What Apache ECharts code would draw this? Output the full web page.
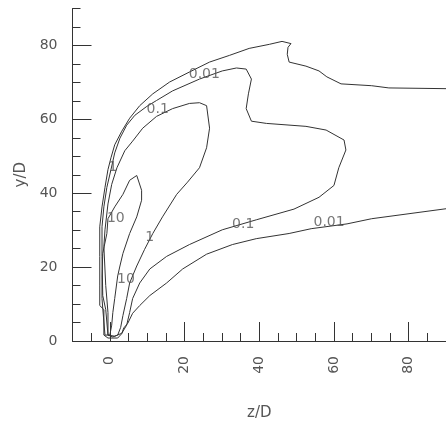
<!DOCTYPE html>
<html>
<head>
<meta charset="utf-8">
<script src="https://cdn.jsdelivr.net/npm/echarts@6/dist/echarts.min.js"></script>
<style>html,body{margin:0;padding:0;background:#fff}#c{width:446px;height:426px}</style>
</head>
<body>
<div id="c"></div>
<script>
// contour level 0.01 (open at right edge) [z/D, y/D]
const contour001 = [[90,68.3],[74.7,68.5],[70.1,69.1],[61.9,69.6],[58.1,71.5],[56.0,73.1],[52.5,74.4],[48.0,75.5],[47.5,77.6],[47.7,79.5],[48.5,80.5],[46.1,81.1],[42.7,80.3],[37.3,79.2],[32.0,77.3],[26.7,75.5],[21.3,72.8],[16.0,70.1],[11.5,66.9],[8.0,63.7],[5.3,60.3],[3.2,56.8],[1.3,53.1],[0.3,49.6],[-0.5,46.4],[-1.3,41.6],[-2.1,36.3],[-2.7,30.9],[-2.7,22.9],[-2.7,14.9],[-2.7,9.6],[-1.6,8.5],[-1.6,1.6],[-0.5,0.8],[2.1,0.8],[3.2,2.0],[3.7,3.5],[4.8,4.8],[6.1,7.5],[8.0,9.6],[10.7,12.3],[15.2,15.7],[19.5,19.5],[25.9,23.5],[32.8,26.1],[39.2,27.7],[48.0,29.1],[53.9,30.4],[63.5,31.7],[70.1,33.1],[90,35.8]];
// contour level 0.1 (closed)
const contour01 = [[-1.1,8.5],[-1.9,12.3],[-2.1,22.9],[-2.1,30.9],[-1.6,36.3],[-0.8,41.6],[0.3,46.4],[1.3,50.9],[2.7,54.9],[4.5,58.4],[6.7,61.1],[9.9,63.5],[12.5,65.1],[16.8,67.7],[24.0,70.9],[30.1,73.1],[33.9,73.9],[36.5,73.6],[37.9,70.9],[37.1,66.9],[36.5,62.9],[37.9,59.5],[41.9,58.9],[52.5,58.1],[57.9,57.1],[62.7,54.4],[63.2,51.7],[61.3,46.9],[60.0,42.1],[56.0,38.9],[49.3,35.7],[39.2,32.8],[30.1,30.1],[21.3,26.1],[15.2,22.9],[10.7,19.5],[8.0,15.7],[6.1,11.5],[5.3,7.7],[4.5,4.3],[3.2,2.1],[1.3,1.3],[-0.5,1.6],[-1.1,8.5]];
// contour level 1 (closed)
const contour1 = [[-0.5,1.6],[-0.5,7.7],[-1.1,15.0],[-1.6,25.6],[-1.3,30.1],[-0.5,37.1],[0.5,42.4],[1.9,46.9],[4.0,51.5],[6.1,54.1],[8.8,57.6],[12.5,60.8],[16.8,62.9],[21.3,64.3],[24.0,64.5],[25.9,63.7],[26.7,57.6],[25.9,52.3],[24.0,46.9],[20.8,43.0],[17.9,39.7],[14.1,33.6],[11.5,29.1],[9.3,24.8],[7.2,20.3],[5.3,15.7],[4.5,11.5],[3.5,6.9],[2.9,3.7],[2.1,1.6],[0.8,1.1],[-0.5,1.6]];
// contour level 10 (closed)
const contour10 = [[7.2,44.8],[8.5,40.8],[8.5,38.1],[7.2,33.6],[5.3,29.1],[3.5,23.7],[2.7,20.3],[2.1,17.6],[1.3,11.5],[0.8,7.7],[0.5,4.3],[0,1.6],[-1.3,1.6],[-1.9,8.8],[-2.1,11.5],[-2.1,17.6],[-1.9,23.7],[-0.8,29.1],[-0.5,33.1],[1.3,36.3],[3.5,39.7],[5.3,43.5],[7.2,44.8]];

// contour labels
const labelText = ['0.01','0.1','1','10','1','10','0.1','0.01'];
const labelZ    = [25.3, 12.8, 0.8, 1.6, 10.7, 4.3, 35.7, 58.7];
const labelY    = [72.3, 62.7, 46.9, 33.3, 28.0, 16.8, 31.5, 32.0];

// axis ticks
const xMajor = [0,20,40,60,80];
const xMinor = [-5,0,5,10,15,20,25,30,35,40,45,50,55,60,65,70,75,80,85];
const yMajor = [0,20,40,60,80];
const yMinor = [5,10,15,20,25,30,35,40,45,50,55,60,65,70,75,80,85,90];

const lineColor = '#333';
const textColor = '#555';
const font = 'DejaVu Sans';

const chart = echarts.init(document.getElementById('c'), null, {renderer:'canvas'});
const contourSeries = [contour001, contour01, contour1, contour10].map(d => ({
  type:'line', xAxisIndex:0, yAxisIndex:0, data:d, showSymbol:false, symbol:'none',
  lineStyle:{color:lineColor, width:1}, silent:true, animation:false, clip:true
}));
const labelSeries = {
  type:'scatter', xAxisIndex:0, yAxisIndex:0, symbolSize:0, silent:true, animation:false,
  data: labelText.map((t,i)=>[labelZ[i], labelY[i], t]),
  label:{show:true, position:'inside', formatter:p=>p.data[2], color:textColor, fontSize:14, fontFamily:font},
  z:5
};

chart.setOption({
  animation:false,
  grid:{left:72.5, right:-1.5, top:8.5, bottom:80, containLabel:false},
  xAxis:[
    {type:'value', min:-10, max:90, position:'bottom',
     axisLine:{show:true, onZero:false, lineStyle:{color:lineColor, width:1}},
     axisTick:{show:true, inside:true, length:8, customValues:xMinor, lineStyle:{color:lineColor}},
     axisLabel:{show:false}, splitLine:{show:false}},
    {type:'value', min:-10, max:90, position:'bottom',
     axisLine:{show:false, onZero:false},
     axisTick:{show:true, inside:true, length:19, customValues:xMajor, lineStyle:{color:lineColor}},
     axisLabel:{show:true, customValues:xMajor, rotate:90, margin:15, color:textColor, fontSize:14, fontFamily:font},
     splitLine:{show:false},
     name:'z/D', nameLocation:'middle', nameGap:65, nameTextStyle:{color:textColor, fontSize:15, fontFamily:font}}
  ],
  yAxis:[
    {type:'value', min:0, max:90, position:'left',
     axisLine:{show:true, onZero:false, lineStyle:{color:lineColor, width:1}},
     axisTick:{show:true, inside:true, length:8, customValues:yMinor, lineStyle:{color:lineColor}},
     axisLabel:{show:false}, splitLine:{show:false}},
    {type:'value', min:0, max:90, position:'left',
     axisLine:{show:false, onZero:false},
     axisTick:{show:true, inside:true, length:19, customValues:yMajor, lineStyle:{color:lineColor}},
     axisLabel:{show:true, customValues:yMajor, margin:15, color:textColor, fontSize:14, fontFamily:font},
     splitLine:{show:false},
     name:'y/D', nameLocation:'middle', nameGap:43, nameRotate:90, nameTextStyle:{color:textColor, fontSize:15, fontFamily:font}}
  ],
  series:[...contourSeries, labelSeries]
});
</script>
</body>
</html>
